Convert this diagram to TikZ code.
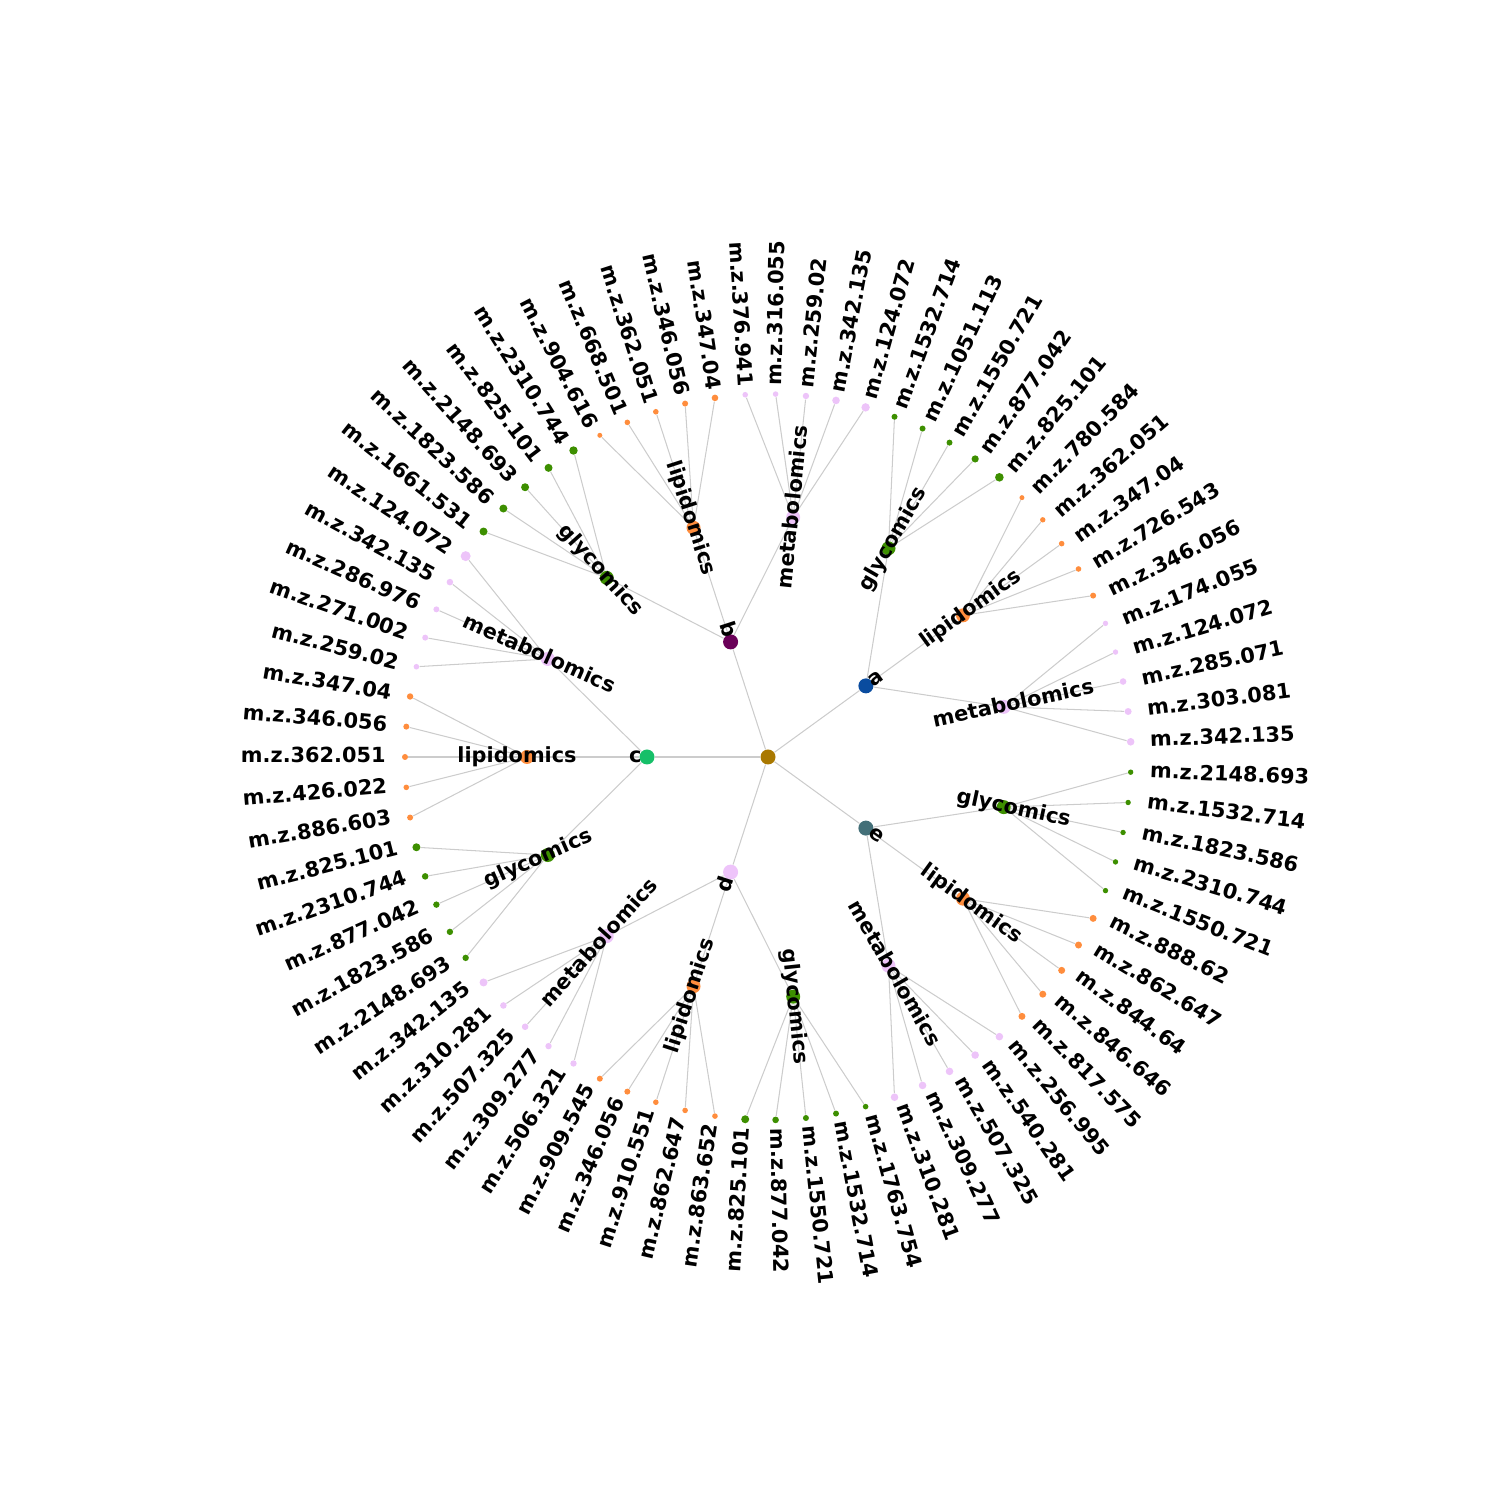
\documentclass[tikz,border=0pt]{standalone}
\usepackage{fontspec}
\setmainfont{DejaVu Sans}
\usetikzlibrary{backgrounds}
\definecolor{rootcol}{HTML}{A97800}
\definecolor{acol}{HTML}{0A4C9F}
\definecolor{bcol}{HTML}{6A0058}
\definecolor{ccol}{HTML}{16BF68}
\definecolor{dcol}{HTML}{EEC4FA}
\definecolor{ecol}{HTML}{436F78}
\definecolor{glycomics}{HTML}{3D8F00}
\definecolor{lipidomics}{HTML}{FF8D3D}
\definecolor{metabolomics}{HTML}{EDC4F9}
\definecolor{edgegray}{HTML}{CCCCCC}
\newcommand\px{0.4818pt}
\newcommand\radtext[5]{%
\pgfmathtruncatemacro\lflip{cos(#1)<0}%
\ifnum\lflip=1 \node[lbl,anchor=east,rotate=#1-180](#5)at({#2*cos(#1)},{#3*sin(#1)}){#4};%
\else \node[lbl,anchor=west,rotate=#1](#5)at({#2*cos(#1)},{#3*sin(#1)}){#4};\fi}
\newcommand\midtext[4]{%
\pgfmathsetmacro\lrot{cos(#1)<0 ? #1-180 : #1}%
\node[lbl,rotate=\lrot](#4)at(#1:#2){#3};}
\begin{document}
\begin{tikzpicture}[x=0.4818pt,y=0.4818pt,
dot/.style={circle,inner sep=0pt,fill=#1},
lbl/.style={font=\fontsize{10.04}{12}\selectfont\bfseries,inner sep=0pt,text height=0.76em,text depth=0.24em},
edge/.style={draw=edgegray,line width=0.5pt}]
\useasboundingbox(-768,-743)rectangle(732,757);
\node[dot=rootcol,minimum size=15*\px](root)at(0,0){};
\foreach \p/\c [count=\i from 0] in {a/acol,b/bcol,c/ccol,d/dcol,e/ecol}{
\pgfmathsetmacro\ang{36+72*\i}
\node[dot=\c,minimum size=15*\px](\p)at(\ang:121){};
\begin{pgfonlayer}{background}\draw[edge](root)--(\p);\end{pgfonlayer}
\radtext{\ang}{126}{126}{\p}{\p-t}}
\foreach \p/\om/\leaves [count=\j from 0] in {
a/metabolomics/{342.135/3.8,303.081/3.5,285.071/3.3,124.072/2.7,174.055/2.7},
a/lipidomics/{346.056/3,726.543/2.8,347.04/2.8,362.051/2.7,780.584/2.5},
a/glycomics/{825.101/4.3,877.042/3.6,1550.721/3,1051.113/3,1532.714/3},
b/metabolomics/{124.072/4.2,342.135/3.8,259.02/3.2,316.055/2.8,376.941/2.8},
b/lipidomics/{347.04/3.3,346.056/3,362.051/2.8,668.501/2.8,904.616/2.5},
b/glycomics/{2310.744/4.2,825.101/4,2148.693/4,1823.586/4,1661.531/4},
c/metabolomics/{124.072/5,342.135/3.3,286.976/3,271.002/3,259.02/2.8},
c/lipidomics/{347.04/3.2,346.056/3,362.051/3,426.022/2.8,886.603/3},
c/glycomics/{825.101/4,2310.744/3.3,877.042/3.2,1823.586/3.2,2148.693/3.2},
d/metabolomics/{342.135/4,310.281/3.3,507.325/3.3,309.277/3.2,506.321/3.2},
d/lipidomics/{909.545/3,346.056/3,910.551/2.8,862.647/2.8,863.652/2.8},
d/glycomics/{825.101/4,877.042/3.3,1550.721/3,1532.714/3,1763.754/2.8},
e/metabolomics/{310.281/3.8,309.277/3.8,507.325/3.8,540.281/3.8,256.995/3.8},
e/lipidomics/{817.575/3.5,846.646/3.5,844.64/3.5,862.647/3.5,888.62/3.5},
e/glycomics/{1550.721/2.7,2310.744/2.7,1823.586/2.7,1532.714/2.7,2148.693/2.7}}{
\pgfmathsetmacro\oang{12+24*\j}
\node[dot=\om,minimum size=14*\px](\p-\om)at(\oang:241){};
\begin{pgfonlayer}{background}\draw[edge](\p)--(\p-\om);\end{pgfonlayer}
\foreach \t/\r [count=\n from 0] in \leaves{
\pgfmathsetmacro\lang{2.4+4.8*(5*\j+\n)}
\node[dot=\om,minimum size=2*\r*\px](\p-\om-\n)at(\lang:363){};
\begin{pgfonlayer}{background}\draw[edge](\p-\om)--(\p-\om-\n);\end{pgfonlayer}
\radtext{\lang}{382}{371}{m.z.\t}{\p-\om-\n-t}}
\midtext{\oang}{251}{\om}{\p-\om-t}}
\end{tikzpicture}
\end{document}
